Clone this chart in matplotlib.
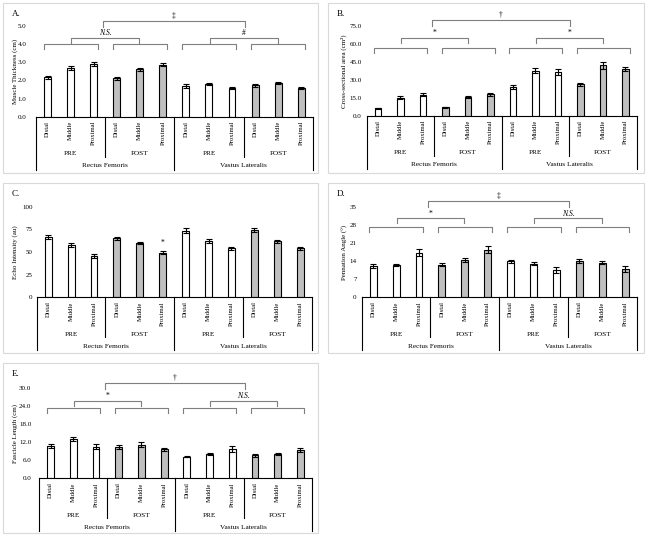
import matplotlib
matplotlib.use("Agg")
import matplotlib.pyplot as plt
from matplotlib.transforms import blended_transform_factory

plt.rcParams['font.family'] = ['Liberation Serif', 'DejaVu Serif']

# category structure (shared by every panel)
segments = ['Distal', 'Middle', 'Proximal']
times = ['PRE', 'POST']
muscles = ['Rectus Femoris', 'Vastus Lateralis']

# panel values, order: RF PRE, RF POST, VL PRE, VL POST (Distal, Middle, Proximal)
thickness = [2.17, 2.67, 2.90, 2.11, 2.61, 2.87, 1.70, 1.81, 1.57, 1.74, 1.85, 1.57]
thickness_err = [0.09, 0.10, 0.10, 0.09, 0.10, 0.10, 0.10, 0.07, 0.07, 0.09, 0.07, 0.07]
csa = [6.4, 15.3, 17.6, 7.2, 15.8, 18.2, 23.9, 37.8, 36.6, 26.3, 42.2, 38.9]
csa_err = [0.6, 1.3, 1.2, 0.5, 1.2, 1.3, 1.8, 2.0, 2.2, 1.5, 2.8, 1.8]
echo = [66.9, 57.7, 45.6, 65.0, 59.8, 49.0, 73.5, 62.2, 54.0, 74.2, 61.8, 54.0]
echo_err = [2.0, 1.8, 2.2, 2.0, 1.5, 1.6, 2.8, 2.2, 1.7, 2.5, 1.8, 1.3]
pennation = [12.2, 12.5, 17.3, 12.5, 14.4, 18.4, 14.0, 13.0, 10.6, 14.0, 13.4, 10.8]
pennation_err = [0.8, 0.5, 1.2, 0.6, 0.7, 1.3, 0.6, 0.5, 1.1, 0.8, 0.5, 1.1]
fascicle = [10.7, 13.0, 10.5, 10.4, 11.1, 9.6, 7.2, 8.2, 9.7, 7.6, 8.2, 9.4]
fascicle_err = [0.7, 0.7, 0.8, 0.8, 0.8, 0.6, 0.2, 0.3, 1.0, 0.4, 0.3, 0.6]

W, H = 650, 539
fig = plt.figure(figsize=(W / 100, H / 100), dpi=100)

# (letter, values, errors, ylabel, ymax, ystep, fmt, box px, axes px, tick pad pt, ylabel x px, brackets)
# axes px = (left, right, y of zero, y of ymax); brackets = (l1, l2, top, tick, labels)
panels = [
    ('A.', thickness, thickness_err, 'Muscle Thickness (cm)', 5, 1, '{:.1f}',
     (3, 3, 318, 173), (36, 312.7, 116.7, 26), 7.0, 15,
     (3.99, 4.36, 5.29, 0.28, ('N.S.', '#', '\u2021'))),
    ('B.', csa, csa_err, 'Cross-sectional area (cm\u00b2)', 75, 15, '{:.1f}',
     (328, 3, 644, 173), (366.7, 636.7, 116, 26), 3.6, 344,
     (56.4, 65.3, 80.0, 4.2, ('*', '*', '\u2020'))),
    ('C.', echo, echo_err, 'Echo Intensity (au)', 100, 25, '{:.0f}',
     (3, 183, 318, 353), (36.7, 311.7, 297.3, 206.7), 3.0, 15, None),
    ('D.', pennation, pennation_err, 'Pennation Angle (\u00b0)', 35, 7, '{:.0f}',
     (328, 183, 644, 353), (361.7, 636.7, 297.3, 206.7), 3.6, 344.5,
     (27.0, 30.5, 37.3, 1.9, ('*', 'N.S.', '\u2021'))),
    ('E.', fascicle, fascicle_err, 'Fascicle Length (cm)', 30, 6, '{:.1f}',
     (3, 363, 318, 533), (39.3, 311.7, 478.3, 388), 5.8, 15,
     (23.5, 25.8, 31.6, 1.66, ('*', 'N.S.', '\u2020'))),
]

grey = '#7f7f7f'

for letter, vals, errs, ylabel, ymax, ystep, fmt, box, axpx, pad, ylx, brk in panels:
    # light panel frame
    bx0, by0, bx1, by1 = box
    fig.patches.append(plt.Rectangle((bx0 / W, 1 - by1 / H), (bx1 - bx0) / W, (by1 - by0) / H,
                                     transform=fig.transFigure, fill=False,
                                     edgecolor='#d9d9d9', lw=0.8))
    fig.text((bx0 + 9) / W, 1 - (by0 + 11) / H, letter, fontsize=6.5, va='center')

    left, right, y0, ytop = axpx
    ax_w, ax_h = right - left, y0 - ytop
    ax = fig.add_axes([left / W, 1 - y0 / H, ax_w / W, ax_h / H])

    x = list(range(len(vals)))
    colors = ['white' if (i // 3) % 2 == 0 else '#bfbfbf' for i in x]
    ax.bar(x, vals, width=0.3, color=colors, edgecolor='black', linewidth=0.8, zorder=2)
    ax.errorbar(x, vals, yerr=errs, fmt='none', ecolor='black', elinewidth=0.8,
                capsize=2, capthick=0.8, zorder=3)

    ax.set_xlim(-0.5, len(vals) - 0.5)
    ax.set_ylim(0, ymax)
    ticks = [i * ystep for i in range(int(round(ymax / ystep)) + 1)]
    ax.set_yticks(ticks)
    ax.set_yticklabels([fmt.format(t) for t in ticks])
    ax.tick_params(axis='y', length=0, pad=pad, labelsize=5)
    ax.set_xticks([])
    for s in ['top', 'right', 'left']:
        ax.spines[s].set_visible(False)
    ax.spines['bottom'].set_linewidth(0.8)
    fig.text(ylx / W, 1 - (y0 + ytop) / 2 / H, ylabel, rotation=90,
             ha='center', va='center', fontsize=5)

    # multi-level category axis
    tr = blended_transform_factory(ax.transData, ax.transAxes)

    def below(px):
        return -px / ax_h

    for i in x:
        ax.text(i, below(4), segments[i % 3], rotation=90, ha='center', va='top',
                fontsize=4.8, transform=tr)
    for g in range(4):
        ax.text(3 * g + 1, below(37), times[g % 2], ha='center', va='center',
                fontsize=5.2, transform=tr)
    for m in range(2):
        ax.text(6 * m + 2.5, below(49), muscles[m], ha='center', va='center',
                fontsize=5.2, transform=tr)
    for xs, depth in [(-0.5, 53), (2.5, 40), (5.5, 53), (8.5, 40), (11.5, 53)]:
        ax.plot([xs, xs], [0, below(depth)], color='black', lw=0.8,
                transform=tr, clip_on=False)

    # significance brackets
    if brk is not None:
        l1, l2, top, tk, labels = brk
        lk = dict(color=grey, lw=0.8, clip_on=False)
        for g in range(4):
            a, b = 3 * g - 0.17, 3 * g + 2.18
            ax.plot([a, a, b, b], [l1 - tk, l1, l1, l1 - tk], **lk)
        for k, (a, b) in enumerate([(1.02, 3.98), (7.03, 9.98)]):
            ax.plot([a, a, b, b], [l2 - tk, l2, l2, l2 - tk], **lk)
            lab = labels[k]
            ax.text((a + b) / 2, l2 + tk * 0.9, lab, ha='center', va='center', fontsize=5.5,
                    style='italic' if lab == 'N.S.' else 'normal')
        a, b = 2.4, 8.55
        ax.plot([a, a, b, b], [top - tk * 1.2, top, top, top - tk * 1.2], **lk)
        ax.text((a + b) / 2, top + tk, labels[2], ha='center', va='center', fontsize=5.5)
    else:
        ax.text(5, vals[5] + errs[5] + 9, '*', ha='center', va='center', fontsize=5.5)

fig.savefig('out.png', dpi=100)
